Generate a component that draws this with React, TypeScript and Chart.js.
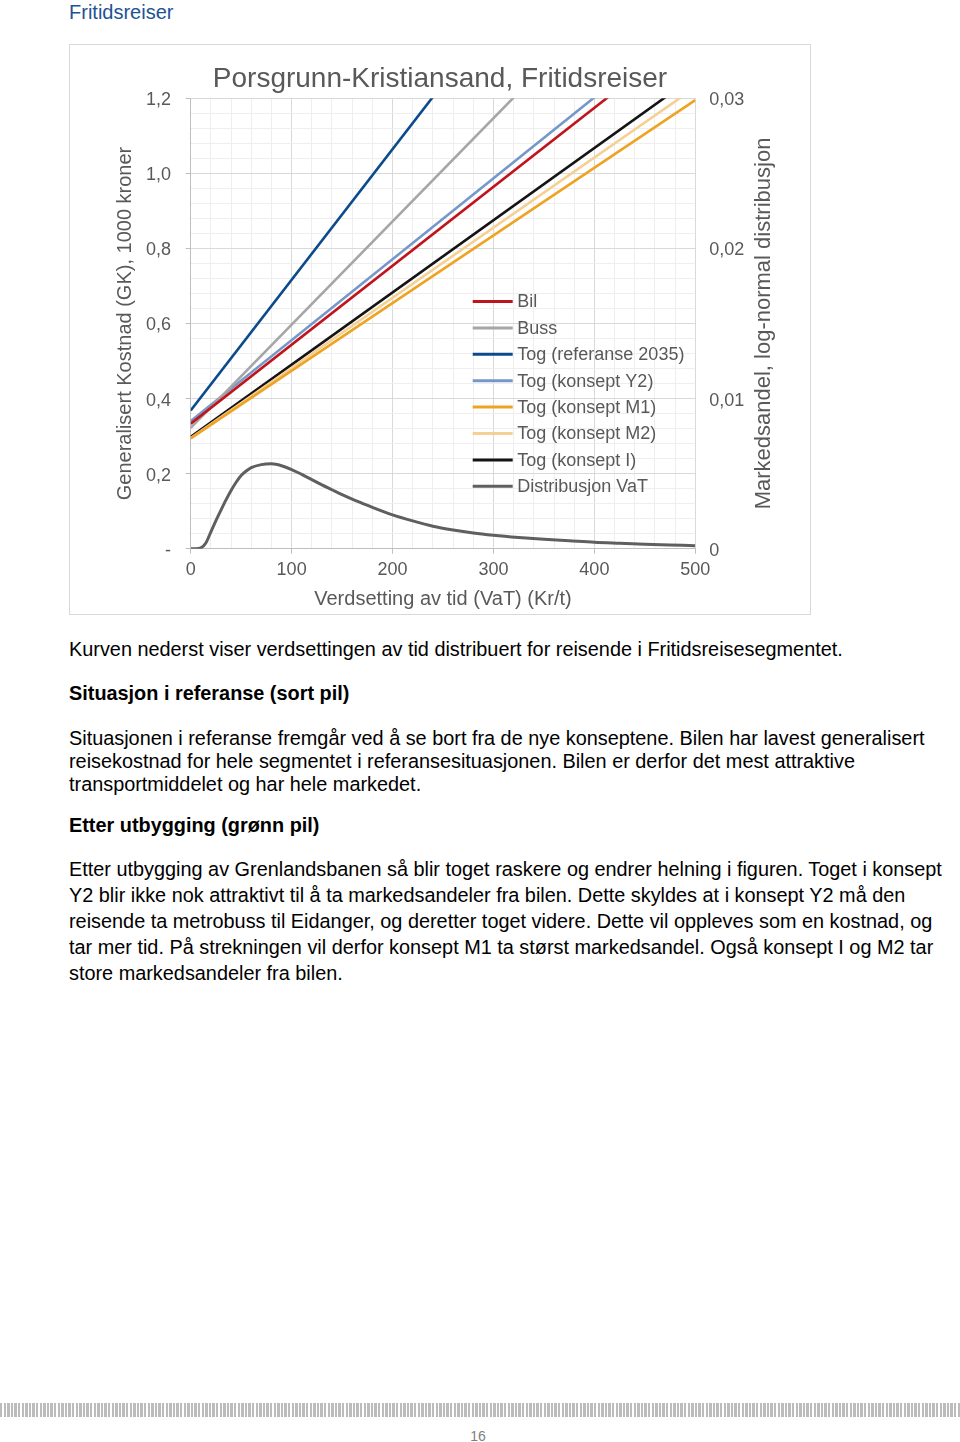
import React, { useEffect, useRef } from 'react';
import { Chart, registerables } from 'chart.js';

Chart.register(...registerables);

// ---- data ----
const vatEnds = [0, 500];
const bil = [0.333, 1.385];
const buss = [0.322, 1.697];
const togRef = [0.368, 2.109];
const togY2 = [0.34, 1.418];
const togM1 = [0.294, 1.195];
const togM2 = [0.295, 1.229];
const togI = [0.298, 1.26];

const distVat = [0, 5, 10, 15, 20, 25, 30, 35, 40, 45, 50, 55, 60, 70, 80, 90, 100, 110, 120, 130, 140, 150, 160, 170, 180, 200, 220, 240, 260, 280, 300, 325, 350, 375, 400, 425, 450, 475, 500];
const distVal = [0, 0, 0.00005, 0.000375, 0.001125, 0.001875, 0.002575, 0.00325, 0.003875, 0.004425, 0.004875, 0.005175, 0.0054, 0.0056, 0.00565, 0.005525, 0.005275, 0.00495, 0.0046, 0.00425, 0.003925, 0.0036, 0.0033, 0.003025, 0.00275, 0.00225, 0.00185, 0.0015, 0.00125, 0.00105, 0.0009, 0.00075, 0.000625, 0.000525, 0.000425, 0.00036, 0.0003, 0.00025, 0.0002];

const seriesNames = ['Bil', 'Buss', 'Tog (referanse 2035)', 'Tog (konsept Y2)', 'Tog (konsept M1)', 'Tog (konsept M2)', 'Tog (konsept I)', 'Distribusjon VaT'];
const seriesColors = ['#c0141c', '#a6a6a6', '#0b4a8b', '#7597c9', '#eea323', '#f6cf92', '#141414', '#5f5f5f'];

const xTickLabels = ['0', '100', '200', '300', '400', '500'];
const leftTickLabels = ['-', '0,2', '0,4', '0,6', '0,8', '1,0', '1,2'];
const rightTickLabels = ['0', '0,01', '0,02', '0,03'];

const chartTitle = 'Porsgrunn-Kristiansand, Fritidsreiser';
const xTitle = 'Verdsetting av tid (VaT) (Kr/t)';
const leftTitle = 'Generalisert Kostnad (GK), 1000 kroner';
const rightTitle = 'Markedsandel, log-normal distribusjon';

const textLines = [
  { t: 'Kurven nederst viser verdsettingen av tid distribuert for reisende i Fritidsreisesegmentet.', y: 649, b: false },
  { t: 'Situasjon i referanse (sort pil)', y: 692.5, b: true },
  { t: 'Situasjonen i referanse fremgår ved å se bort fra de nye konseptene. Bilen har lavest generalisert', y: 737.5, b: false },
  { t: 'reisekostnad for hele segmentet i referansesituasjonen. Bilen er derfor det mest attraktive', y: 760.8, b: false },
  { t: 'transportmiddelet og har hele markedet.', y: 784, b: false },
  { t: 'Etter utbygging (grønn pil)', y: 824.5, b: true },
  { t: 'Etter utbygging av Grenlandsbanen så blir toget raskere og endrer helning i figuren. Toget i konsept', y: 868.5, b: false },
  { t: 'Y2 blir ikke nok attraktivt til å ta markedsandeler fra bilen. Dette skyldes at i konsept Y2 må den', y: 894.5, b: false },
  { t: 'reisende ta metrobuss til Eidanger, og deretter toget videre. Dette vil oppleves som en kostnad, og', y: 920.5, b: false },
  { t: 'tar mer tid. På strekningen vil derfor konsept M1 ta størst markedsandel. Også konsept I og M2 tar', y: 946.5, b: false },
  { t: 'store markedsandeler fra bilen.', y: 972.5, b: false },
];

const FONT = "Arial, 'Liberation Sans', sans-serif";
const TEXT = '#595959';
const GRID_MAJOR = '#d9d9d9';
const GRID_MINOR = '#eeeeee';
const AXIS = '#bfbfbf';

const lineSeries = [bil, buss, togRef, togY2, togM1, togM2, togI];

const legendPlugin = {
  id: 'insideLegend',
  afterDatasetsDraw(chart: any) {
    const ctx = chart.ctx;
    const { left, top } = chart.chartArea;
    const x0 = left + 282;
    const y0 = top + 203.2;
    chart.data.datasets.forEach((ds: any, i: number) => {
      const y = y0 + i * 26.4;
      ctx.save();
      ctx.strokeStyle = ds.borderColor;
      ctx.lineWidth = 3;
      ctx.beginPath();
      ctx.moveTo(x0, y);
      ctx.lineTo(x0 + 40, y);
      ctx.stroke();
      ctx.fillStyle = TEXT;
      ctx.font = `18px ${FONT}`;
      ctx.textBaseline = 'middle';
      ctx.textAlign = 'left';
      ctx.fillText(ds.label, x0 + 44.6, y + 1);
      ctx.restore();
    });
  },
};

const rightTitlePlugin = {
  id: 'rightTitle',
  afterDraw(chart: any) {
    const ctx = chart.ctx;
    const { top, bottom } = chart.chartArea;
    const sc = chart.scales.y1;
    ctx.save();
    ctx.translate(sc.right - 46, (top + bottom) / 2);
    ctx.rotate(-Math.PI / 2);
    ctx.font = `22px ${FONT}`;
    ctx.fillStyle = TEXT;
    ctx.textAlign = 'center';
    ctx.textBaseline = 'middle';
    ctx.fillText(rightTitle, 0, 0);
    ctx.restore();
  },
};

function ChartBox() {
  const ref = useRef<HTMLCanvasElement | null>(null);
  useEffect(() => {
    if (!ref.current) return;
    const datasets: any[] = lineSeries.map((s, i) => ({
      label: seriesNames[i],
      data: vatEnds.map((x, j) => ({ x, y: s[j] })),
      borderColor: seriesColors[i],
      backgroundColor: seriesColors[i],
      borderWidth: 2.6,
      pointRadius: 0,
      yAxisID: 'y',
    }));
    datasets.push({
      label: seriesNames[7],
      data: distVat.map((x, j) => ({ x, y: distVal[j] })),
      borderColor: seriesColors[7],
      backgroundColor: seriesColors[7],
      borderWidth: 3,
      pointRadius: 0,
      cubicInterpolationMode: 'monotone',
      yAxisID: 'y1',
    });
    const chart = new Chart(ref.current, {
      type: 'line',
      data: { datasets },
      plugins: [legendPlugin, rightTitlePlugin],
      options: {
        animation: false,
        responsive: false,
        layout: { padding: 0 },
        font: { family: FONT },
        plugins: {
          legend: { display: false },
          tooltip: { enabled: false },
          title: {
            display: true,
            text: chartTitle,
            color: TEXT,
            font: { size: 28, weight: 'normal', family: FONT },
            padding: { top: 17.9, bottom: 1.8 },
          },
        },
        scales: {
          x: {
            type: 'linear',
            min: 0,
            max: 500,
            ticks: {
              stepSize: 20,
              autoSkip: false,
              maxRotation: 0,
              padding: 5.5,
              color: TEXT,
              font: { size: 18, family: FONT },
              callback: (v: any) => (v % 100 === 0 ? xTickLabels[v / 100] : ''),
            },
            grid: {
              color: (c: any) => (c.tick && c.tick.value % 100 === 0 ? GRID_MAJOR : GRID_MINOR),
              tickColor: (c: any) => (c.tick && c.tick.value % 100 === 0 ? AXIS : 'rgba(0,0,0,0)'),
              tickLength: 5,
            },
            border: { color: AXIS },
            title: {
              display: true,
              text: xTitle,
              color: TEXT,
              font: { size: 20, family: FONT },
              padding: { top: 0, bottom: 3 },
            },
            afterFit: (s: any) => { s.height = 65.3; },
          },
          y: {
            position: 'left',
            min: 0,
            max: 1.2,
            ticks: {
              stepSize: 0.04,
              autoSkip: false,
              padding: 14.7,
              labelOffset: 2,
              color: TEXT,
              font: { size: 18, family: FONT },
              callback: (v: any) => {
                const r = Math.round(v * 100);
                return r % 20 === 0 ? leftTickLabels[r / 20] : '';
              },
            },
            grid: {
              color: (c: any) => (c.tick && Math.round(c.tick.value * 100) % 20 === 0 ? GRID_MAJOR : GRID_MINOR),
              tickColor: (c: any) => (c.tick && Math.round(c.tick.value * 100) % 20 === 0 ? AXIS : 'rgba(0,0,0,0)'),
              tickLength: 5,
            },
            border: { color: AXIS },
            title: {
              display: true,
              text: leftTitle,
              color: TEXT,
              font: { size: 20, family: FONT },
              padding: { top: 43, bottom: 0 },
            },
            afterFit: (s: any) => { s.width = 120.7; },
          },
          y1: {
            position: 'right',
            min: 0,
            max: 0.03,
            ticks: {
              stepSize: 0.01,
              padding: 14,
              labelOffset: 2,
              color: TEXT,
              font: { size: 18, family: FONT },
              callback: (v: any) => rightTickLabels[Math.round(v * 100)],
            },
            grid: { drawOnChartArea: false, drawTicks: false },
            border: { display: false },
            afterFit: (s: any) => { s.width = 114.7; },
          },
        },
      } as any,
    });
    return () => chart.destroy();
  }, []);
  return <canvas ref={ref} width={740} height={569} style={{ display: 'block', width: 740, height: 569 }} />;
}

export default function App() {
  useEffect(() => {
    document.body.style.margin = '0';
    document.body.style.background = '#ffffff';
  }, []);
  return (
    <div style={{ position: 'absolute', left: 0, top: 0, width: 960, height: 1442, background: '#fff', fontFamily: FONT, overflow: 'hidden' }}>
      <div style={{ position: 'absolute', left: 69, top: 2, fontSize: 20, lineHeight: '20px', color: '#1d5394', whiteSpace: 'nowrap' }}>Fritidsreiser</div>
      <div style={{ position: 'absolute', left: 69, top: 44, width: 740, height: 569, border: '1px solid #d9d9d9' }}>
        <ChartBox />
      </div>
      {textLines.map((l, i) => (
        <div key={i} style={{ position: 'absolute', left: 69, top: l.y - 9.77, fontSize: 19.87, lineHeight: '20px', fontWeight: l.b ? 'bold' : 'normal', color: '#000', whiteSpace: 'nowrap' }}>{l.t}</div>
      ))}
      <div style={{ position: 'absolute', left: 0, top: 1403, width: 960, height: 14, background: 'repeating-linear-gradient(90deg, #bcbcbc 0px, #bcbcbc 2.4px, #ffffff 2.4px, #ffffff 3.6px)' }} />
      <div style={{ position: 'absolute', left: 0, top: 1428, width: 960, textAlign: 'center', fontSize: 14, lineHeight: '16px', color: '#808080' }}>
        <span style={{ position: 'relative', left: -2 }}>16</span>
      </div>
    </div>
  );
}
